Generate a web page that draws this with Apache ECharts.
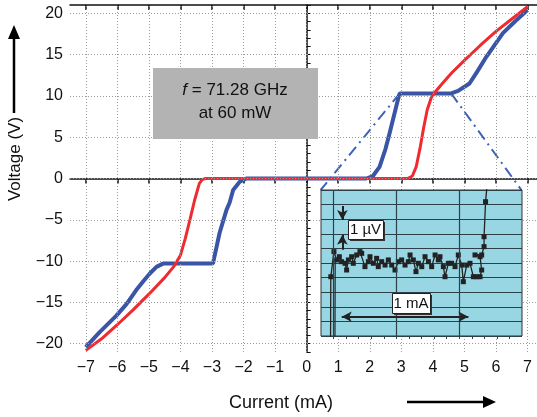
<!DOCTYPE html>
<html>
<head>
<meta charset="utf-8">
<script src="https://cdn.jsdelivr.net/npm/echarts@6/dist/echarts.min.js"></script>
<style>
  html, body { margin: 0; padding: 0; background: #fff; }
  #js-echarts { width: 537px; height: 417px; }
</style>
</head>
<body>
<div id="js-echarts"></div>
<script>
// tick positions
const xTicks = [-7, -6, -5, -4, -3, -2, -1, 0, 1, 2, 3, 4, 5, 6, 7];
const yTicks = [-20, -15, -10, -5, 0, 5, 10, 15, 20];

// I-V curves [current mA, voltage V]
const redCurve = [
  [-7, -20.8], [-6.5, -19.4], [-6, -17.7], [-5.5, -15.9], [-5, -14.0], [-4.5, -12.0],
  [-4.2, -10.6], [-4.0, -9.3], [-3.85, -7.3], [-3.7, -5.0], [-3.55, -2.6], [-3.4, -0.6],
  [-3.3, -0.1], [-3.2, 0], [3.2, 0], [3.35, 0.3], [3.47, 1.4], [3.6, 3.8], [3.7, 6.0],
  [3.82, 8.3], [3.95, 9.8], [4.1, 10.6], [4.3, 11.5], [4.6, 12.8], [5.0, 14.3],
  [5.5, 16.1], [6, 17.8], [6.5, 19.3], [7, 20.8]
];
const blueCurve = [
  [-7, -20.4], [-6.56, -18.6], [-6.03, -16.6], [-5.71, -15.2], [-5.4, -13.5], [-5.19, -12.5],
  [-4.97, -11.5], [-4.76, -10.7], [-4.55, -10.3], [-2.97, -10.3], [-2.76, -6.6], [-2.54, -3.8],
  [-2.44, -2.9], [-2.33, -1.4], [-2.12, -0.4], [-1.91, 0], [1.89, 0], [2.1, 0.3], [2.31, 1.4],
  [2.5, 3.6], [2.63, 5.5], [2.89, 9.5], [2.95, 10.3], [4.58, 10.3], [4.8, 10.6], [5.16, 11.5],
  [5.4, 12.9], [5.69, 14.7], [6.22, 17.6], [6.6, 19.0], [7, 20.4]
];
// zoom guides: plateau ends -> inset corners
const guideLeft = [[2.95, 10.3], [0.44, -1.42]];
const guideRight = [[4.58, 10.3], [6.81, -1.42]];

// inset trace [relative current mA, voltage µV divisions]
const insetTrace = [
  [-0.024, -0.5], [-0.022, 4.06], [0.003, 5.78], [0.025, 5.21], [0.046, 5.43], [0.064, 5.09],
  [0.091, 4.98], [0.104, 4.52], [0.118, 5.21], [0.144, 5.43], [0.157, 4.98], [0.184, 5.55],
  [0.21, 5.78], [0.224, 5.66], [0.25, 4.75], [0.277, 5.09], [0.29, 5.43], [0.317, 4.98],
  [0.343, 5.32], [0.356, 4.75], [0.383, 5.09], [0.41, 4.86], [0.436, 5.21], [0.463, 4.86],
  [0.489, 4.52], [0.516, 5.09], [0.542, 5.21], [0.569, 4.86], [0.595, 5.09], [0.609, 5.55],
  [0.635, 5.21], [0.656, 4.41], [0.675, 4.98], [0.702, 4.75], [0.728, 5.43], [0.755, 5.09],
  [0.781, 4.75], [0.808, 5.55], [0.834, 5.21], [0.847, 5.43], [0.874, 4.75], [0.887, 4.06],
  [0.914, 4.98], [0.94, 4.98], [0.967, 4.75], [0.993, 5.55], [1.02, 4.86], [1.033, 3.72],
  [1.06, 4.86], [1.086, 4.98], [1.113, 4.06], [1.139, 4.06], [1.166, 4.06], [1.179, 4.52],
  [1.166, 5.43], [1.126, 5.55], [1.179, 5.55], [1.198, 6.12], [1.198, 6.8], [1.21, 9.2],
  [1.225, 10.6]
];
const insetTrace2 = [[0.011, -0.5], [0.013, 5.2], [0.025, 5.21]];
const insetVLines = [0, 0.5, 1.0];
const insetTicks = [0, 0.1, 0.2, 0.3, 0.4, 0.5, 0.6, 0.7, 0.8, 0.9, 1.0, 1.1, 1.2, 1.3, 1.4];

const chartDom = document.getElementById('js-echarts');
const chart = echarts.init(chartDom);
const theme = {
  red: '#ef2b2f',
  blue: '#3a55a6',
  guide: '#3c62b8',
  grid: '#9a9a9a',
  ink: '#111',
  inset: '#98d6e4',
  insetLine: '#2c4147'
};
const font = 'Liberation Sans, Arial, sans-serif';
const fmt = v => (v < 0 ? '\u2212' + Math.abs(v) : String(v));
const arrowSeg = (from, to, s1, s2) => [
  { coord: from, symbol: s1, symbolSize: [8, 10], lineStyle: { color: '#222', width: 2 } },
  { coord: to, symbol: s2, symbolSize: [8, 10], lineStyle: { color: '#222', width: 2 } }
];

const option = {
  animation: false,
  grid: [
    { left: 70, top: 5, right: 0, bottom: 65 },
    {
      left: 321, top: 190, width: 201, height: 146, show: true, zlevel: 1,
      backgroundColor: theme.inset, borderColor: '#333', borderWidth: 1
    }
  ],
  xAxis: [
    {
      type: 'value', gridIndex: 0, min: -7.5, max: 7.3, position: 'bottom',
      axisLine: { lineStyle: { color: theme.ink, width: 1.5 } },
      axisTick: { customValues: xTicks, length: 5, inside: false, lineStyle: { color: theme.ink, width: 1.5 } },
      axisLabel: { customValues: xTicks, formatter: fmt, fontSize: 16, color: theme.ink, fontFamily: font, margin: 8 },
      splitLine: { show: false }
    },
    {
      type: 'value', gridIndex: 0, min: -7.5, max: 7.3, position: 'top',
      axisLine: { lineStyle: { color: theme.ink, width: 1.5 } },
      axisTick: { customValues: xTicks, length: 5, inside: true, lineStyle: { color: theme.ink, width: 1.5 } },
      axisLabel: { show: false },
      splitLine: { show: false }
    },
    {
      type: 'value', gridIndex: 1, min: -0.1, max: 1.5, position: 'top', zlevel: 1,
      axisLine: { show: false },
      axisTick: { customValues: insetTicks, length: 3, inside: true, lineStyle: { color: theme.insetLine } },
      axisLabel: { show: false },
      splitLine: { show: false }
    }
  ],
  yAxis: [
    {
      type: 'value', gridIndex: 0, min: -21, max: 21, interval: 1,
      axisLine: { show: true, lineStyle: { color: theme.ink, width: 1.5 } },
      axisTick: { inside: true, length: 4, lineStyle: { color: theme.ink } },
      axisLabel: {
        formatter: v => (yTicks.indexOf(v) >= 0 ? fmt(v) : ''),
        fontSize: 16, color: theme.ink, fontFamily: font, margin: 7
      },
      splitLine: { show: false }
    },
    {
      type: 'value', gridIndex: 1, min: 0, max: 10, interval: 1, zlevel: 1,
      axisLine: { show: false }, axisTick: { show: false }, axisLabel: { show: false },
      splitLine: { show: true, lineStyle: { color: theme.insetLine, width: 1.2 } }
    }
  ],
  series: [
    {
      type: 'line', xAxisIndex: 0, yAxisIndex: 0, data: [], z: 1, silent: true,
      markLine: {
        silent: true, symbol: 'none', label: { show: false }, animation: false,
        lineStyle: { color: theme.grid, type: [1, 2], width: 1 },
        data: xTicks.map(v => ({ xAxis: v })).concat(yTicks.map(v => ({ yAxis: v })))
      }
    },
    {
      type: 'line', xAxisIndex: 0, yAxisIndex: 0, data: blueCurve, symbol: 'none', z: 3,
      lineStyle: { color: theme.blue, width: 4 }
    },
    {
      type: 'line', xAxisIndex: 0, yAxisIndex: 0, data: redCurve, symbol: 'none', z: 4,
      lineStyle: { color: theme.red, width: 3 }
    },
    {
      type: 'line', xAxisIndex: 0, yAxisIndex: 0, data: guideLeft, symbol: 'none', z: 2,
      lineStyle: { color: theme.guide, width: 2, type: [11, 5, 2, 5] }
    },
    {
      type: 'line', xAxisIndex: 0, yAxisIndex: 0, data: guideRight, symbol: 'none', z: 2,
      lineStyle: { color: theme.guide, width: 2, type: [11, 5, 2, 5] }
    },
    {
      type: 'line', xAxisIndex: 2, yAxisIndex: 1, zlevel: 1, z: 3, data: insetTrace2, symbol: 'none',
      lineStyle: { color: '#222', width: 1.2 }
    },
    {
      type: 'line', xAxisIndex: 2, yAxisIndex: 1, zlevel: 1, z: 4, data: insetTrace,
      symbol: 'rect', symbolSize: 5, itemStyle: { color: '#222' },
      lineStyle: { color: '#222', width: 1.3 },
      markLine: {
        silent: true, symbol: 'none', label: { show: false }, animation: false, zlevel: 1, z: 5,
        lineStyle: { color: theme.insetLine, type: 'solid', width: 1.2 },
        data: insetVLines.map(v => ({ xAxis: v })).concat([
          arrowSeg([0.07, 8.9], [0.07, 7.95], 'none', 'arrow'),
          arrowSeg([0.07, 5.9], [0.07, 6.93], 'none', 'arrow'),
          arrowSeg([0.065, 1.32], [1.073, 1.32], 'arrow', 'arrow')
        ])
      }
    }
  ],
  graphic: [
    // f box
    { type: 'rect', left: 153, top: 68, shape: { width: 165, height: 71 }, style: { fill: '#b3b3b3' }, z: 10 },
    {
      type: 'text', x: 235, y: 90, z: 11,
      style: {
        text: '{i|f} = 71.28 GHz', align: 'center', verticalAlign: 'middle',
        font: '17px ' + font, fill: '#111',
        rich: { i: { fontStyle: 'italic', fontSize: 17, fontFamily: font } }
      }
    },
    { type: 'text', x: 235, y: 113, z: 11, style: { text: 'at 60 mW', align: 'center', verticalAlign: 'middle', font: '17px ' + font, fill: '#111' } },
    // axis titles
    {
      type: 'text', x: 15, y: 159, rotation: Math.PI / 2, z: 11,
      style: { text: 'Voltage (V)', align: 'center', verticalAlign: 'middle', font: '17px ' + font, fill: '#111' }
    },
    { type: 'line', shape: { x1: 14, y1: 113, x2: 14, y2: 36 }, style: { stroke: '#000', lineWidth: 2.5 } },
    { type: 'polygon', shape: { points: [[14, 25], [8, 39], [20, 39]] }, style: { fill: '#000' } },
    { type: 'text', x: 281, y: 403, z: 11, style: { text: 'Current (mA)', align: 'center', verticalAlign: 'middle', font: '18px ' + font, fill: '#111' } },
    { type: 'line', shape: { x1: 407, y1: 402, x2: 485, y2: 402 }, style: { stroke: '#000', lineWidth: 2.5 } },
    { type: 'polygon', shape: { points: [[496, 402], [483, 396], [483, 408]] }, style: { fill: '#000' } },
    // inset labels
    { type: 'rect', zlevel: 1, z: 50, left: 350, top: 222, shape: { width: 35, height: 19 }, style: { fill: '#333' } },
    { type: 'rect', zlevel: 1, z: 51, left: 348, top: 220, shape: { width: 35, height: 19 }, style: { fill: '#fff', stroke: '#222', lineWidth: 1 } },
    { type: 'text', zlevel: 1, z: 52, x: 365.5, y: 230, style: { text: '1 \u00b5V', align: 'center', verticalAlign: 'middle', font: '15px ' + font, fill: '#111' } },
    { type: 'rect', zlevel: 1, z: 50, left: 394, top: 295, shape: { width: 38, height: 20 }, style: { fill: '#333' } },
    { type: 'rect', zlevel: 1, z: 51, left: 392, top: 293, shape: { width: 38, height: 20 }, style: { fill: '#fff', stroke: '#222', lineWidth: 1 } },
    { type: 'text', zlevel: 1, z: 52, x: 411, y: 303.5, style: { text: '1 mA', align: 'center', verticalAlign: 'middle', font: '15px ' + font, fill: '#111' } }
  ]
};

chart.setOption(option);
</script>
</body>
</html>
